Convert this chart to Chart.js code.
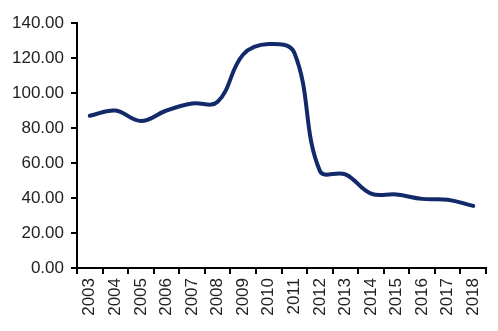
<!DOCTYPE html>
<html>
<head>
<meta charset="utf-8">
<script src="https://cdn.jsdelivr.net/npm/chart.js@4/dist/chart.umd.min.js"></script>
<style>
    body { margin: 0; background: #fff; }
    #wrap { width: 498px; height: 331px; }
</style>
</head>
<body>
<div id="wrap"><canvas id="priceChart"></canvas></div>
<script>
// =====================
// Data
// =====================
const years = ["2003", "2004", "2005", "2006", "2007", "2008", "2009", "2010",
               "2011", "2012", "2013", "2014", "2015", "2016", "2017", "2018"];
const values = [87, 90, 84, 90, 94, 95, 122, 128, 123, 55.5, 53.5, 42.5, 42, 39.5, 39, 35.5];

const yMin = 0;
const yMax = 140;
const yStep = 20;

// =====================
// Chart
// =====================
const ctx = document.getElementById("priceChart").getContext("2d");
Chart.defaults.font.family = "'Liberation Sans', Arial, sans-serif";
Chart.defaults.font.size = 17;
Chart.defaults.color = "#222";

new Chart(ctx, {
    type: "line",
    data: {
        labels: years,
        datasets: [{
            data: values,
            borderColor: "#12296a",
            borderWidth: 4,
            tension: 0.4,
            pointRadius: 0,
            borderCapStyle: "round",
            borderJoinStyle: "round",
            fill: false
        }]
    },
    options: {
        responsive: true,
        maintainAspectRatio: false,
        animation: false,
        layout: { padding: { top: 23, right: 11, bottom: 0, left: 0 } },
        plugins: { legend: { display: false }, tooltip: { enabled: false } },
        scales: {
            x: {
                offset: true,
                grid: { offset: true, drawOnChartArea: false, tickLength: 6, color: "#000", lineWidth: 2 },
                border: { color: "#000", width: 2 },
                ticks: { minRotation: 90, maxRotation: 90, padding: 4, autoSkip: false },
                afterFit: scale => { scale.height = 63; }
            },
            y: {
                min: yMin,
                max: yMax,
                grid: { drawOnChartArea: false, tickLength: 6, color: "#000", lineWidth: 2 },
                border: { color: "#000", width: 2 },
                ticks: { stepSize: yStep, padding: 7, callback: v => v.toFixed(2) },
                afterFit: scale => { scale.width = 77; }
            }
        }
    }
});
</script>
</body>
</html>
